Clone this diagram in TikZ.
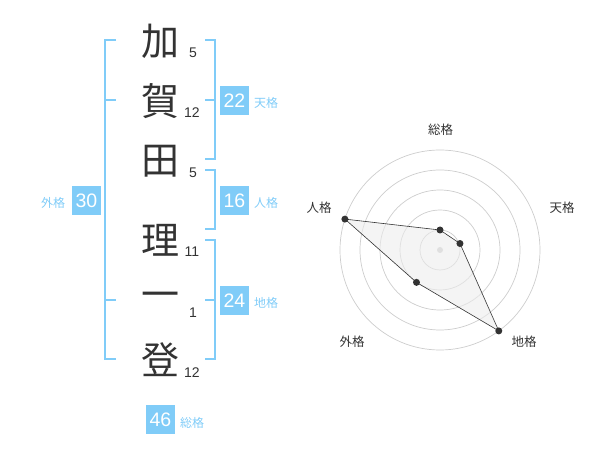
\documentclass[tikz,border=0pt]{standalone}
\usepackage{fontspec}
\setmainfont{Liberation Sans}
\newfontfamily\jp{Noto Sans CJK JP}
\definecolor{skyb}{RGB}{128,204,248}
\definecolor{ink}{RGB}{51,51,51}
\definecolor{ringc}{RGB}{205,205,205}
\begin{document}
\begin{tikzpicture}[x=1pt,y=-1pt,
  kanji/.style={font=\jp\fontsize{38}{38}\selectfont, text=ink, inner sep=0},
  strk/.style={font=\fontsize{14}{14}\selectfont, text=ink, inner sep=0},
  br/.style={draw=skyb, line width=2pt},
  box/.style={fill=skyb, text=white, minimum size=29pt, inner sep=0, font=\fontsize{19.5}{19.5}\selectfont},
  lab/.style={text=skyb, font=\jp\fontsize{12}{12}\selectfont, inner sep=0},
  ring/.style={draw=ringc, line width=0.7pt},
  dot/.style={circle, fill=ink, minimum size=7pt, inner sep=0},
  rlab/.style={text=ink, font=\jp\fontsize{12.5}{12.5}\selectfont, inner sep=0}]
\useasboundingbox (0,0) rectangle (600,470);
% kanji
\node[kanji] (k1) at (160,41) {加};
\node[kanji] (k2) at (160,101) {賀};
\node[kanji] (k3) at (160,161) {田};
\node[kanji] (k4) at (160,240) {理};
\node[kanji] (k5) at (160,300) {一};
\node[kanji] (k6) at (160,360) {登};
% strokes
\node[strk] (s1) at (193,53) {5};
\node[strk] (s2) at (192,113) {12};
\node[strk] (s3) at (193,173) {5};
\node[strk] (s4) at (192,252) {11};
\node[strk] (s5) at (193,313) {1};
\node[strk] (s6) at (192,373) {12};
% brackets
\draw[br] (116,40) -- (105,40) -- (105,359) -- (116,359);
\draw[br] (105,100) -- (116,100);
\draw[br] (105,300) -- (116,300);
\draw[br] (205,40) -- (215,40) -- (215,159) -- (205,159);
\draw[br] (215,100) -- (205,100);
\draw[br] (205,170) -- (215,170) -- (215,229) -- (205,229);
\draw[br] (205,240) -- (215,240) -- (215,359) -- (205,359);
\draw[br] (215,300) -- (205,300);
% boxes
\node[box] (b22) at (234.5,100.5) {22};
\node[lab] (l22) at (266,103) {天格};
\node[box] (b16) at (234.5,200.5) {16};
\node[lab] (l16) at (266,203) {人格};
\node[box] (b24) at (234.5,300.5) {24};
\node[lab] (l24) at (266,303) {地格};
\node[box] (b30) at (86.5,200.5) {30};
\node[lab] (l30) at (53,203) {外格};
\node[box] (b46) at (160.5,419.5) {46};
\node[lab] (l46) at (192,423) {総格};
% radar
\coordinate (c) at (440,250);
\foreach \r in {20,40,60,80,100} \draw[ring] (c) circle[radius=\r];
\fill[ringc] (c) circle[radius=3];
\path (c) ++(-90:20) coordinate (q1);
\path (c) ++(-18:21) coordinate (q2);
\path (c) ++(54:100) coordinate (q3);
\path (c) ++(126:40) coordinate (q4);
\path (c) ++(198:100) coordinate (q5);
\filldraw[fill=gray!15, fill opacity=0.6, draw=ink, line width=0.6pt] (q1) -- (q2) -- (q3) -- (q4) -- (q5) -- cycle;
\node[dot] (p1) at (q1) {};
\node[dot] (p2) at (q2) {};
\node[dot] (p3) at (q3) {};
\node[dot] (p4) at (q4) {};
\node[dot] (p5) at (q5) {};
\node[rlab] (r1) at (440.7,130) {総格};
\node[rlab] (r2) at (562,208) {天格};
\node[rlab] (r3) at (319,208) {人格};
\node[rlab] (r4) at (352,342) {外格};
\node[rlab] (r5) at (524,342) {地格};
\end{tikzpicture}
\end{document}
